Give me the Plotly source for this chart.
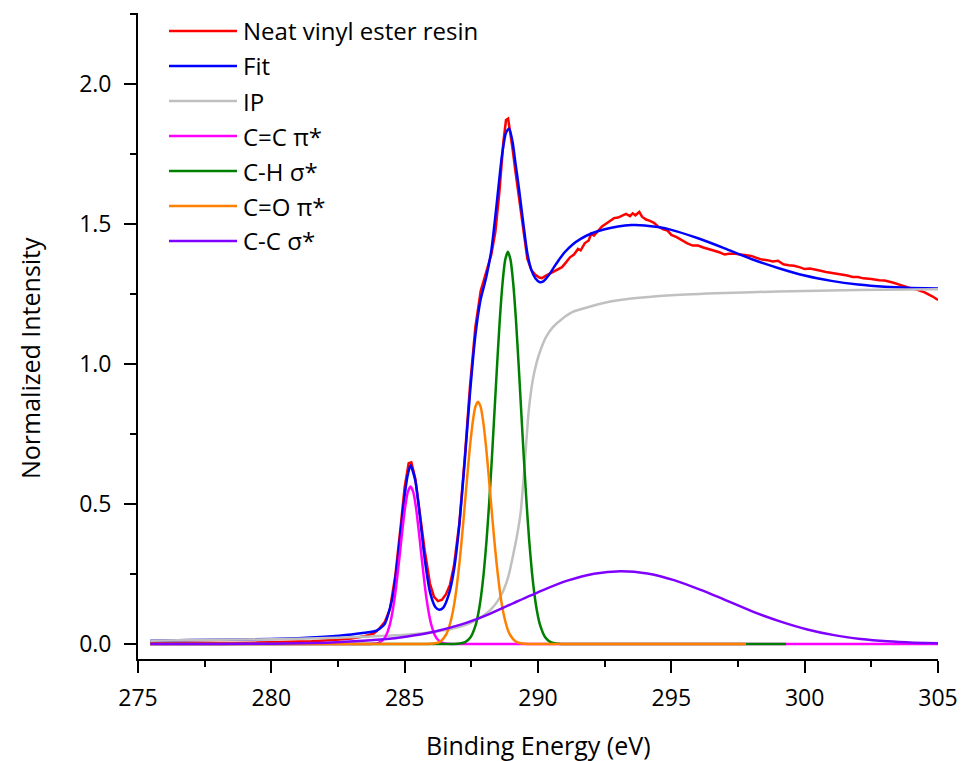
import plotly.graph_objects as go

# ---------------- data ----------------
data_x = [275.46, 276.5, 277.5, 278.5, 279.5, 280.5, 281.5, 282.3, 283.0, 283.5, 283.85, 284.05,
          284.25, 284.45, 284.65, 284.85, 285.0, 285.15, 285.25, 285.4, 285.55, 285.75, 285.95,
          286.1, 286.25, 286.4, 286.55, 286.7, 286.85, 287.05, 287.25, 287.45, 287.65, 287.85,
          288.05, 288.25, 288.4, 288.55, 288.7, 288.8, 288.88, 288.95, 289.05, 289.15, 289.3,
          289.45, 289.6, 289.75, 289.9, 290.05, 290.15, 290.3, 290.5, 290.7, 290.9, 291.05, 291.2,
          291.35, 291.5, 291.6, 291.75, 291.9, 292.0, 292.1, 292.25, 292.4, 292.55, 292.7, 292.85,
          293.0, 293.15, 293.3, 293.45, 293.55, 293.65, 293.8, 293.9, 294.05, 294.2, 294.35, 294.5,
          294.7, 294.85, 295.0, 295.2, 295.4, 295.6, 295.8, 296.0, 296.2, 296.4, 296.6, 296.8,
          297.0, 297.15, 297.4, 297.6, 297.8, 298.0, 298.2, 298.4, 298.6, 298.8, 299.0, 299.2,
          299.4, 299.6, 299.8, 300.0, 300.2, 300.4, 300.6, 300.8, 301.0, 301.2, 301.4, 301.6,
          301.8, 302.0, 302.2, 302.5, 302.8, 303.0, 303.3, 303.6, 303.9, 304.2, 304.5, 304.8, 305.0]
data_y = [0.005, 0.004, 0.003, 0.004, 0.005, 0.007, 0.010, 0.014, 0.020, 0.028, 0.038, 0.055,
          0.078, 0.125, 0.245, 0.420, 0.560, 0.645, 0.648, 0.590, 0.485, 0.335, 0.215,
          0.168, 0.153, 0.158, 0.178, 0.212, 0.280, 0.430, 0.660, 0.920, 1.130, 1.260,
          1.325, 1.390, 1.470, 1.610, 1.790, 1.870, 1.875, 1.835, 1.765, 1.690, 1.585,
          1.470, 1.375, 1.335, 1.318, 1.308, 1.306, 1.315, 1.325, 1.335, 1.345, 1.362, 1.380,
          1.390, 1.410, 1.405, 1.430, 1.440, 1.465, 1.458, 1.475, 1.490, 1.500, 1.510, 1.520,
          1.522, 1.528, 1.535, 1.527, 1.537, 1.530, 1.542, 1.525, 1.515, 1.510, 1.503, 1.490,
          1.480, 1.476, 1.460, 1.452, 1.440, 1.430, 1.422, 1.422, 1.415, 1.410, 1.405, 1.398,
          1.390, 1.393, 1.393, 1.390, 1.388, 1.385, 1.378, 1.372, 1.370, 1.365, 1.368, 1.355,
          1.352, 1.350, 1.345, 1.338, 1.340, 1.335, 1.332, 1.328, 1.325, 1.323, 1.318, 1.315,
          1.310, 1.310, 1.305, 1.303, 1.298, 1.297, 1.290, 1.280, 1.272, 1.265, 1.255, 1.240, 1.228]

fit_x = [275.46, 277, 279, 281, 282, 283, 283.5, 283.95, 284.25, 284.55, 284.75, 284.95, 285.1,
         285.22, 285.4, 285.55, 285.75, 285.95, 286.15, 286.3, 286.45, 286.65, 286.85, 287.05,
         287.25, 287.45, 287.65, 287.85, 288.05, 288.25, 288.45, 288.65, 288.8, 288.92, 289.05,
         289.15, 289.3, 289.45, 289.6, 289.75, 289.9, 290.05, 290.2, 290.4, 290.6, 290.8, 291.0,
         291.3, 291.6, 292.0, 292.5, 293.0, 293.5, 294.0, 294.5, 295.0, 296.0, 297.0, 298.0,
         299.0, 300.0, 301.0, 302.0, 303.0, 304.0, 305.0]
fit_y = [0.012, 0.014, 0.016, 0.021, 0.026, 0.034, 0.040, 0.048, 0.071, 0.168, 0.312, 0.491, 0.596,
         0.638, 0.583, 0.473, 0.305, 0.185, 0.132, 0.122, 0.130, 0.175, 0.265, 0.425,
         0.650, 0.895, 1.100, 1.230, 1.305, 1.405, 1.570, 1.745, 1.825, 1.840, 1.790,
         1.720, 1.615, 1.500, 1.395, 1.335, 1.305, 1.292, 1.294, 1.316, 1.345, 1.373, 1.398,
         1.426, 1.446, 1.465, 1.480, 1.490, 1.495, 1.494, 1.488, 1.478, 1.448, 1.412, 1.374,
         1.342, 1.315, 1.296, 1.283, 1.275, 1.271, 1.269]

ip_x = [275.46, 277, 279, 281, 282.5, 283.5, 284.5, 285.5, 286.2, 286.7, 287.1, 287.5, 287.9,
        288.2, 288.5, 288.7, 288.9, 289.05, 289.2, 289.35, 289.5, 289.65, 289.8, 289.95, 290.1,
        290.3, 290.55, 290.9, 291.3, 291.8, 292.5, 293.5, 295, 297, 299, 302, 305]
ip_y = [0.012, 0.014, 0.016, 0.019, 0.022, 0.026, 0.030, 0.037, 0.045, 0.053, 0.062, 0.076, 0.098,
        0.120, 0.155, 0.190, 0.245, 0.310, 0.380, 0.470, 0.640, 0.830, 0.940, 1.005, 1.050,
        1.095, 1.130, 1.160, 1.185, 1.200, 1.218, 1.233, 1.245, 1.253, 1.258, 1.263, 1.266]

cc_pi_x = [275.46, 280.0, 283.5, 283.82, 284.02, 284.22, 284.32, 284.42, 284.52, 284.62, 284.72,
           284.82, 284.92, 285.02, 285.12, 285.22, 285.32, 285.42, 285.52, 285.62, 285.72,
           285.82, 285.92, 286.02, 286.12, 286.22, 286.42, 286.62, 287.0, 290.0, 295.0, 300.0, 305.0]
cc_pi_y = [0, 0, 0, 0.001, 0.004, 0.018, 0.034, 0.061, 0.103, 0.161, 0.237,
           0.323, 0.411, 0.490, 0.543, 0.562, 0.543, 0.490, 0.411, 0.323, 0.237,
           0.161, 0.103, 0.061, 0.034, 0.018, 0.004, 0.001, 0, 0, 0, 0, 0]

ch_sigma_x = [275.46, 280.0, 285.0, 286.87, 287.07, 287.27, 287.47, 287.67, 287.77, 287.87, 287.97,
              288.07, 288.17, 288.27, 288.37, 288.47, 288.57, 288.67, 288.77, 288.87, 288.97,
              289.07, 289.17, 289.27, 289.37, 289.47, 289.57, 289.67, 289.77, 289.87, 289.97,
              290.07, 290.27, 290.47, 290.67, 290.87, 293.0, 296.0, 299.3]
ch_sigma_y = [0, 0, 0, 0, 0.002, 0.007, 0.024, 0.070, 0.113, 0.175, 0.259,
              0.369, 0.505, 0.662, 0.832, 1.003, 1.161, 1.288, 1.371, 1.400, 1.371,
              1.288, 1.161, 1.003, 0.832, 0.662, 0.505, 0.369, 0.259, 0.175, 0.113,
              0.070, 0.024, 0.007, 0.002, 0, 0, 0, 0]

co_pi_x = [275.46, 280.0, 285.0, 285.75, 285.95, 286.15, 286.35, 286.55, 286.65, 286.75, 286.85,
           286.95, 287.05, 287.15, 287.25, 287.35, 287.45, 287.55, 287.65, 287.75, 287.85,
           287.95, 288.05, 288.15, 288.25, 288.35, 288.45, 288.55, 288.65, 288.75, 288.85,
           288.95, 289.15, 289.35, 289.55, 289.75, 292.0, 295.0, 297.8]
co_pi_y = [0, 0, 0, 0, 0.001, 0.003, 0.010, 0.033, 0.056, 0.090, 0.138,
           0.203, 0.285, 0.383, 0.491, 0.602, 0.706, 0.790, 0.846, 0.865, 0.846,
           0.790, 0.706, 0.602, 0.491, 0.383, 0.285, 0.203, 0.138, 0.090, 0.056,
           0.033, 0.010, 0.003, 0.001, 0, 0, 0, 0]

cc_sigma_x = [275.46, 276.1, 278.1, 280.1, 281.1, 282.1, 283.1, 284.1, 285.1, 286.1, 287.1, 288.1,
              289.1, 290.1, 291.1, 292.1, 293.1, 294.1, 295.1, 296.1, 297.1, 298.1, 299.1,
              300.1, 301.1, 302.1, 303.1, 304.1, 305.0]
cc_sigma_y = [0.0, 0.0, 0.0002, 0.001, 0.0023, 0.0049, 0.0097, 0.016, 0.027, 0.044, 0.069, 0.104,
              0.147, 0.189, 0.226, 0.251, 0.260, 0.252, 0.228, 0.193, 0.154, 0.114, 0.080,
              0.052, 0.0317, 0.0181, 0.0097, 0.0049, 0.0025]

series_names = ["Neat vinyl ester resin", "Fit", "IP", "C=C π*", "C-H σ*", "C=O π*", "C-C σ*"]
series_colors = ["#FF0000", "#0000FF", "#C0C0C0", "#FF00FF", "#008000", "#FF8000", "#8000FF"]

x_ticks = [275, 280, 285, 290, 295, 300, 305]
y_ticks = [0.0, 0.5, 1.0, 1.5, 2.0]
y_tick_text = ["0.0", "0.5", "1.0", "1.5", "2.0"]

# ---------------- figure ----------------
FONT = "Open Sans, Noto Sans, sans-serif"
series = [(data_x, data_y, "linear"), (fit_x, fit_y, "spline"), (ip_x, ip_y, "spline"),
          (cc_pi_x, cc_pi_y, "spline"), (ch_sigma_x, ch_sigma_y, "spline"),
          (co_pi_x, co_pi_y, "spline"), (cc_sigma_x, cc_sigma_y, "spline")]

fig = go.Figure()
for (xs, ys, shape), name, col in zip(series, series_names, series_colors):
    fig.add_trace(go.Scatter(x=xs, y=ys, mode="lines", name=name,
                             line=dict(color=col, width=2.5, shape=shape, smoothing=0.6),
                             showlegend=False))

W, H = 962, 761
ml, mr, mt, mb = 138, 24, 13, 102
plot_h = H - mt - mb
plot_w = W - ml - mr


def py_to_paper(py):
    return (H - mb - py) / plot_h


def px_to_paper(px):
    return (px - ml) / plot_w


shapes = []
annotations = []
row0, row_step = 31.0, 35.0
for i, (name, col) in enumerate(zip(series_names, series_colors)):
    yy = py_to_paper(row0 + i * row_step)
    shapes.append(dict(type="line", xref="paper", yref="paper",
                       x0=px_to_paper(169), x1=px_to_paper(237), y0=yy, y1=yy,
                       line=dict(color=col, width=2.5)))
    annotations.append(dict(xref="paper", yref="paper", x=px_to_paper(241), y=yy,
                            xanchor="left", yanchor="middle", text=name, showarrow=False,
                            font=dict(family=FONT, size=24, color="black")))

annotations.append(dict(xref="paper", yref="paper", x=px_to_paper(538), y=py_to_paper(745),
                        xanchor="center", yanchor="middle", text="Binding Energy (eV)",
                        showarrow=False, font=dict(family=FONT, size=25, color="black")))
annotations.append(dict(xref="paper", yref="paper", x=px_to_paper(30), y=py_to_paper(358),
                        xanchor="center", yanchor="middle", text="Normalized Intensity",
                        textangle=-90, showarrow=False,
                        font=dict(family=FONT, size=25, color="black")))

fig.update_layout(
    width=W, height=H, autosize=False,
    margin=dict(l=ml, r=mr, t=mt, b=mb, autoexpand=False),
    paper_bgcolor="white", plot_bgcolor="white",
    font=dict(family=FONT, size=23, color="black"),
    shapes=shapes, annotations=annotations,
    showlegend=False,
)
fig.update_xaxes(range=[275, 305], tickvals=x_ticks, ticks="outside", ticklen=12, tickwidth=1.8,
                 tickcolor="black", showline=True, linecolor="black", linewidth=1.8,
                 showgrid=False, zeroline=False, ticklabelstandoff=5, automargin=False,
                 minor=dict(dtick=2.5, ticks="outside", ticklen=6, tickwidth=1.8,
                            tickcolor="black", showgrid=False),
                 tickfont=dict(family=FONT, size=23, color="black"))
fig.update_yaxes(range=[-0.0535, 2.252], tickvals=y_ticks, ticktext=y_tick_text,
                 ticks="outside", ticklen=12, tickwidth=1.8, automargin=False,
                 tickcolor="black", showline=True, linecolor="black", linewidth=1.8,
                 showgrid=False, zeroline=False, ticklabelstandoff=8,
                 minor=dict(tick0=0, dtick=0.25, ticks="outside", ticklen=6, tickwidth=1.8,
                            tickcolor="black", showgrid=False),
                 tickfont=dict(family=FONT, size=23, color="black"))

fig.write_html("out.html", config={"responsive": False})
